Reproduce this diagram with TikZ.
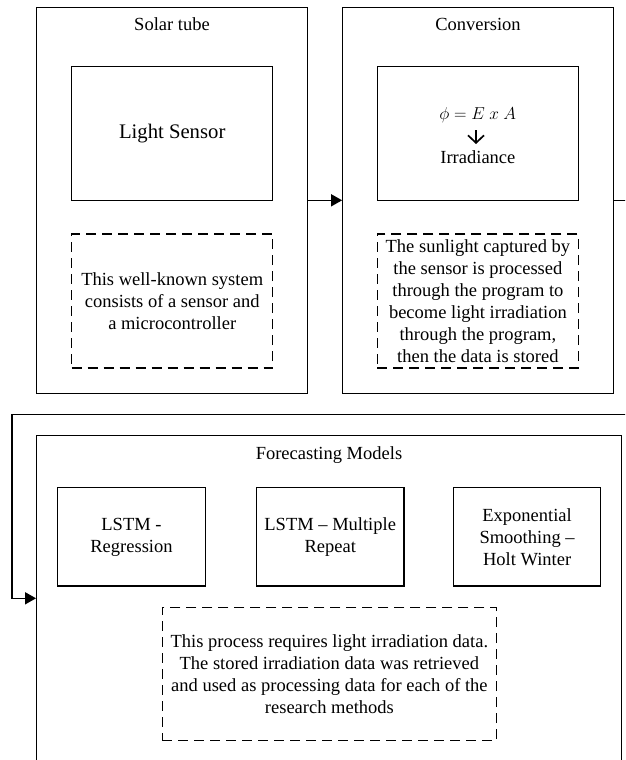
\documentclass[tikz,border=0pt]{standalone}
\usepackage{fontspec}
\setmainfont{Liberation Serif}
\usetikzlibrary{arrows.meta}
\tikzset{
  box/.style={draw, line width=1.2pt, inner sep=0pt, align=center, font=\fontsize{18.5}{22}\selectfont},
  outerbox/.style={box, line width=1.3pt},
  notebox/.style={box, dash pattern=on 10pt off 6pt, line width=1.1pt},
  lbl/.style={inner sep=0pt, anchor=base, font=\fontsize{18.5}{22}\selectfont},
  conn/.style={line width=1.5pt, -{Triangle[length=11pt,width=12pt]}},
  glypharrow/.style={line width=1.7pt, -{Straight Barb[length=7.5pt,width=16pt,line width=1.7pt]}}
}
\begin{document}
\begin{tikzpicture}[x=1pt,y=-1pt]
\useasboundingbox (0,0) rectangle (625,760);
\clip (0,0) rectangle (625,760);
\fill[white] (0,0) rectangle (625,760);

% Solar tube
\node[outerbox, minimum width=270.6pt, minimum height=386pt] (solar) at (172,200.3) {};
\node[lbl] (solart) at (172,31) {Solar tube};
\node[box, minimum width=201pt, minimum height=134pt, font=\fontsize{20.7}{24}\selectfont] (sensor) at (172.2,133.7) {Light Sensor};
\node[notebox, minimum width=201pt, minimum height=134pt] (solarnote) at (172.2,301) {This well-known system\\consists of a sensor and\\a microcontroller};

% Conversion
\node[outerbox, minimum width=270.5pt, minimum height=386pt] (conv) at (478,200.3) {};
\node[lbl] (convt) at (478,31) {Conversion};
\node[box, minimum width=201pt, minimum height=134pt] (irrbox) at (477.9,133.7) {};
\node[lbl, font=\fontsize{18}{20}\selectfont] (formula) at (477.7,119) {$\phi = E\ x\ A$};
\coordinate (arrtop) at (476,130);
\coordinate (arrbot) at (476,144);
\draw[glypharrow] (arrtop) -- (arrbot);
\node[lbl] (irr) at (477.9,163) {Irradiance};
\node[notebox, minimum width=201pt, minimum height=134pt] (convnote) at (477.9,301) {The sunlight captured by\\the sensor is processed\\through the program to\\become light irradiation\\through the program,\\then the data is stored};

% Forecasting
\node[outerbox, minimum width=585.1pt, minimum height=350pt] (fc) at (329.25,610.7) {};
\node[lbl] (fct) at (329,459) {Forecasting Models};
\node[box, minimum width=147.5pt, minimum height=98.3pt] (m1) at (131.5,536.9) {LSTM -\\Regression};
\node[box, minimum width=147.5pt, minimum height=98.3pt] (m2) at (330.2,536.9) {LSTM – Multiple\\Repeat};
\node[box, minimum width=147.5pt, minimum height=98.3pt] (m3) at (527.1,536.9) {Exponential\\Smoothing –\\Holt Winter};
\node[notebox, minimum width=334.4pt, minimum height=133.4pt] (fcnote) at (329.4,674) {This process requires light irradiation data.\\The stored irradiation data was retrieved\\and used as processing data for each of the\\research methods};

% Connectors
\draw[conn] (solar.east) -- (conv.west);
\coordinate (bendR) at (640,414.3);
\coordinate (bendL) at (12,414.3);
\coordinate (lvl) at (0,598.3);
\draw[conn] (conv.east) -| (bendR) -- (bendL) |- (fc.west |- lvl);
\end{tikzpicture}
\end{document}
